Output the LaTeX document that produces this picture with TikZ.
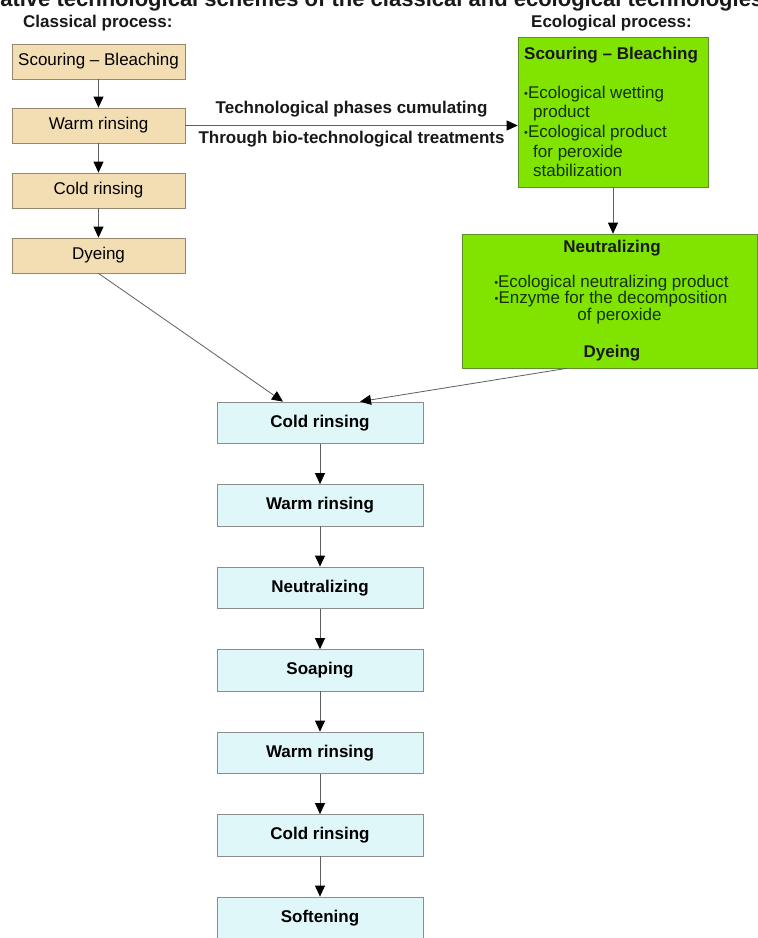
\documentclass[tikz,border=0pt]{standalone}
\usepackage{fontspec}
\setmainfont{Liberation Sans}
\usetikzlibrary{arrows.meta}

\definecolor{tanfill}{RGB}{243,222,180}
\definecolor{tanline}{RGB}{150,135,110}
\definecolor{limefill}{RGB}{128,228,0}
\definecolor{limeline}{RGB}{95,140,45}
\definecolor{cyanfill}{RGB}{224,247,250}
\definecolor{boxline}{RGB}{140,140,140}
\definecolor{greentext}{RGB}{20,50,0}
\definecolor{arrowline}{RGB}{95,95,95}

% small raised bullet used in the product lists
\newcommand{\bul}{{\fontsize{11}{11}\selectfont\raisebox{1pt}{•}}}

\begin{document}
\begin{tikzpicture}[x=1pt,y=-1pt,
  classic/.style={draw=tanline, fill=tanfill, line width=0.8pt,
    minimum width=173pt, minimum height=35pt, inner sep=0pt,
    font=\fontsize{17}{20}\selectfont},
  rinse/.style={draw=boxline, fill=cyanfill, line width=0.8pt,
    minimum width=206pt, minimum height=41.5pt, inner sep=0pt,
    font=\bfseries\fontsize{17}{20}\selectfont},
  eco/.style={draw=limeline, fill=limefill, line width=0.6pt, inner sep=0pt},
  head/.style={font=\bfseries\fontsize{17}{20}\selectfont, inner sep=0pt, text=black!90},
  ecoline/.style={font=\fontsize{17}{20}\selectfont, inner sep=0pt, text=greentext},
  flow/.style={draw=arrowline, line width=0.8pt,
    -{Triangle[length=11pt,width=10pt,color=black]}},
]
\useasboundingbox (0,0) rectangle (758,938);
\clip (0,0) rectangle (758,938);
\fill[white] (0,0) rectangle (758,938);

% title (runs past the page edges)
\node[head, font=\bfseries\fontsize{22}{24}\selectfont, anchor=base west] (title)
  at (-83,6.5) {Comparative technological schemes of the classical and ecological technologies};

% column headings
\node[head, anchor=base west] (hcl) at (23,27) {Classical process:};
\node[head, anchor=base west] (hec) at (531,27) {Ecological process:};

% classical process
\node[classic] (c1) at (98.5,61.5) {Scouring – Bleaching};
\node[classic] (c2) at (98.5,125.5) {Warm rinsing};
\node[classic] (c3) at (98.5,190.5) {Cold rinsing};
\node[classic] (c4) at (98.5,255.5) {Dyeing};

% ecological process, first stage
\node[eco, minimum width=190pt, minimum height=150pt] (g1) at (613,112) {};
\node[head, anchor=base west] (g1h) at (524,59) {Scouring – Bleaching};
\node[ecoline, anchor=base west] (g1a) at (524,98)  {\bul Ecological wetting};
\node[ecoline, anchor=base west] (g1b) at (533,117) {product};
\node[ecoline, anchor=base west] (g1c) at (524,137) {\bul Ecological product};
\node[ecoline, anchor=base west] (g1d) at (533,157) {for peroxide};
\node[ecoline, anchor=base west] (g1e) at (533,176) {stabilization};

% ecological process, second stage
\node[eco, minimum width=295pt, minimum height=134pt] (g2) at (609.5,301) {};
\node[head, anchor=base] (g2h) at (612,252) {Neutralizing};
\node[ecoline, anchor=base] (g2a) at (611.5,287) {\bul Ecological neutralizing product};
\node[ecoline, anchor=base] (g2b) at (611,303) {\bul Enzyme for the decomposition};
\node[ecoline, anchor=base] (g2c) at (619.5,320) {of peroxide};
\node[head, anchor=base] (g2d) at (612,357) {Dyeing};

% common finishing sequence
\node[rinse] (r1) at (320,422.75) {Cold rinsing};
\node[rinse] (r2) at (320,505.25) {Warm rinsing};
\node[rinse] (r3) at (320,587.75) {Neutralizing};
\node[rinse] (r4) at (320,670.25) {Soaping};
\node[rinse] (r5) at (320,752.75) {Warm rinsing};
\node[rinse] (r6) at (320,835.25) {Cold rinsing};
\node[rinse] (r7) at (320,917.75) {Softening};

% connectors
\draw[flow] (c1) -- (c2);
\draw[flow] (c2) -- (c3);
\draw[flow] (c3) -- (c4);
\draw[flow] (c2.east) -- (c2.east -| g1.west)
  node[head, midway, anchor=base, yshift=12pt] (lab1) {Technological phases cumulating}
  node[head, midway, anchor=base, yshift=-18pt] (lab2) {Through bio-technological treatments};
\draw[flow] (g1.south) -- (g1.south |- g2.north);
\draw[flow] (c4.south) -- ([xshift=-37pt]r1.north);
\draw[flow] ([xshift=-42.5pt]g2.south) -- ([xshift=40pt]r1.north);
\draw[flow] (r1) -- (r2);
\draw[flow] (r2) -- (r3);
\draw[flow] (r3) -- (r4);
\draw[flow] (r4) -- (r5);
\draw[flow] (r5) -- (r6);
\draw[flow] (r6) -- (r7);
\end{tikzpicture}
\end{document}
